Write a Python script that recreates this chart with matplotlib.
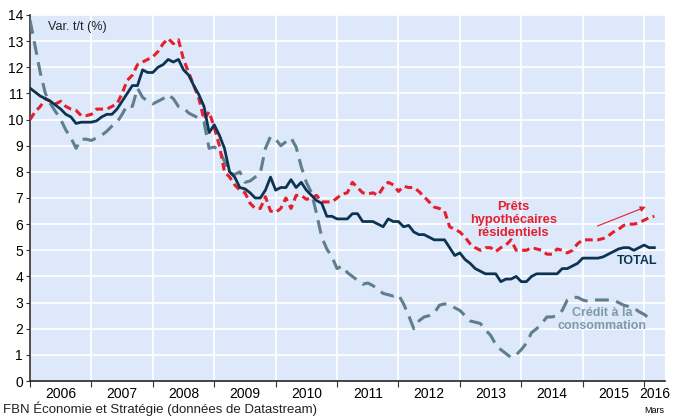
import numpy as np
import matplotlib.pyplot as plt
from matplotlib.ticker import FixedLocator

plt.rcParams['font.family'] = ['Liberation Sans', 'DejaVu Sans']

# Monthly data, Jan 2006 -> Mar 2016 (annual % change)
start_year = 2006
total = [11.2, 11.05, 10.9, 10.8, 10.7, 10.55, 10.4, 10.2, 10.1, 9.85, 9.9, 9.9,
         9.9, 9.95, 10.1, 10.2, 10.2, 10.4, 10.7, 11.0, 11.3, 11.3, 11.9, 11.8,
         11.8, 12.0, 12.1, 12.3, 12.2, 12.3, 11.9, 11.7, 11.3, 10.95, 10.5, 9.5,
         9.8, 9.4, 8.9, 8.0, 7.8, 7.4, 7.35, 7.2, 7.0, 7.0, 7.3, 7.8,
         7.3, 7.4, 7.4, 7.7, 7.4, 7.6, 7.3, 7.1, 6.9, 6.8, 6.3, 6.3,
         6.2, 6.2, 6.2, 6.4, 6.4, 6.1, 6.1, 6.1, 6.0, 5.9, 6.2, 6.1,
         6.1, 5.9, 5.95, 5.7, 5.6, 5.6, 5.5, 5.4, 5.4, 5.4, 5.1, 4.8,
         4.9, 4.65, 4.5, 4.3, 4.2, 4.1, 4.1, 4.1, 3.8, 3.9, 3.9, 4.0,
         3.8, 3.8, 4.0, 4.1, 4.1, 4.1, 4.1, 4.1, 4.3, 4.3, 4.4, 4.5,
         4.7, 4.7, 4.7, 4.7, 4.75, 4.85, 4.95, 5.05, 5.1, 5.1, 5.0, 5.1,
         5.2, 5.1, 5.1]
hypo = [10.0, 10.3, 10.5, 10.8, 10.7, 10.6, 10.7, 10.5, 10.4, 10.35, 10.15, 10.15,
        10.2, 10.4, 10.4, 10.4, 10.5, 10.6, 11.0, 11.5, 11.7, 12.1, 12.2, 12.3,
        12.4, 12.6, 12.9, 13.1, 12.9, 13.05, 12.3, 11.8, 11.3, 10.8, 10.0, 10.3,
        9.7, 9.0, 8.0, 7.8, 7.5, 7.3, 7.2, 6.8, 6.6, 6.6, 7.05, 6.5,
        6.45, 6.6, 7.0, 6.6, 7.1, 7.1, 6.95, 7.0, 7.1, 6.85, 6.85, 6.85,
        7.0, 7.15, 7.2, 7.6, 7.4, 7.2, 7.15, 7.2, 7.1, 7.4, 7.6, 7.5,
        7.25, 7.45, 7.4, 7.4, 7.25, 7.05, 6.85, 6.65, 6.6, 6.5, 5.9, 5.8,
        5.7, 5.5, 5.25, 5.1, 5.0, 5.1, 5.1, 4.95, 5.1, 5.2, 5.4, 5.0,
        5.0, 5.0, 5.1, 5.05, 5.0, 4.85, 4.85, 5.05, 5.0, 4.9, 5.0, 5.25,
        5.4, 5.4, 5.4, 5.4, 5.45, 5.55, 5.7, 5.8, 5.95, 6.0, 6.0, 6.05,
        6.15, 6.25, 6.3]
conso = [13.8, 12.8, 11.8, 11.0, 10.6, 10.3, 10.0, 9.6, 9.3, 8.9, 9.25, 9.25,
         9.2, 9.3, 9.4, 9.55, 9.75, 9.9, 10.2, 10.55, 10.5, 11.2, 10.85, 10.7,
         10.6, 10.7, 10.8, 10.95, 10.8, 10.5, 10.45, 10.25, 10.15, 10.05, 9.9, 8.9,
         8.95, 8.8, 8.4, 7.95, 7.9, 8.0, 7.6, 7.65, 7.8, 7.95, 8.9, 9.35,
         9.25, 9.0, 9.15, 9.3, 8.95, 8.2, 7.6, 7.2, 6.4, 5.5, 5.05, 4.75,
         4.3, 4.4, 4.15, 4.0, 3.85, 3.7, 3.75, 3.65, 3.5, 3.35, 3.3, 3.25,
         3.3, 2.95, 2.5, 2.0, 2.3, 2.45, 2.5, 2.6, 2.9, 2.95, 2.9, 2.8,
         2.7, 2.5, 2.3, 2.25, 2.2, 1.95, 1.75, 1.4, 1.2, 1.05, 0.9, 1.0,
         1.2, 1.45, 1.85, 2.0, 2.2, 2.45, 2.45, 2.5, 2.7, 3.1, 3.2, 3.2,
         3.1, 3.05, 3.1, 3.1, 3.1, 3.1, 3.1, 3.0, 2.9, 2.85, 2.8, 2.65,
         2.55, 2.4, 2.4]
years = list(range(2006, 2017))

t = start_year + np.arange(len(total)) / 12.0

navy = '#0c3452'
red = '#e5202d'
grey = '#5f7e8e'
grey_txt = '#7e9aaa'

fig = plt.figure(figsize=(6.76, 4.16), dpi=100)
ax = fig.add_axes([0.0444, 0.0841, 0.9393, 0.8799])
ax.set_facecolor('#dde9fb')

ax.plot(t, conso, color=grey, lw=2.2, dashes=(4.5, 2.5), zorder=3)
ax.plot(t, hypo, color=red, lw=2.2, dashes=(2.5, 1.5), zorder=4)
ax.plot(t, total, color=navy, lw=2.0, zorder=5)

ax.set_xlim(2006, 2016.34)
ax.set_ylim(0, 14)
ax.set_yticks(range(0, 15))
ax.tick_params(axis='y', labelsize=10, length=3, width=0.8, color='#333333', pad=2)

# year labels centred in each year, tick marks at year boundaries
label_pos = [y + 0.5 for y in years[:-1]] + [2016.17]
ax.set_xticks(label_pos)
ax.set_xticklabels([str(y) for y in years])
ax.xaxis.set_minor_locator(FixedLocator(years))
ax.tick_params(axis='x', which='major', length=0, labelsize=10, pad=4)
ax.tick_params(axis='x', which='minor', length=4, width=0.8, color='#333333')

ax.grid(True, axis='y', which='major', color='white', lw=1.2)
ax.grid(True, axis='x', which='minor', color='white', lw=1.2)
ax.grid(False, axis='x', which='major')
ax.set_axisbelow(True)
for s in ['top', 'right']:
    ax.spines[s].set_visible(False)
ax.spines['left'].set_color('#333333')
ax.spines['bottom'].set_color('#222222')
ax.spines['left'].set_linewidth(1.2)
ax.spines['bottom'].set_linewidth(1.2)

ax.text(2006.3, 13.55, 'Var. t/t (%)', fontsize=9, color='#222222', va='center')

ax.text(2013.87, 6.16, 'Prêts\nhypothécaires\nrésidentiels', color=red,
        fontsize=9.3, fontweight='bold', ha='center', va='center', linespacing=1.15)
ax.text(2015.89, 4.59, 'TOTAL', color=navy, fontsize=9, fontweight='bold',
        ha='center', va='center')
ax.text(2015.32, 2.35, 'Crédit à la\nconsommation', color=grey_txt, fontsize=9,
        fontweight='bold', ha='center', va='center', linespacing=1.1)
ax.annotate('', xy=(2016.07, 6.7), xytext=(2015.2, 5.89),
            arrowprops=dict(arrowstyle='-|>', color=red, lw=0.8,
                            mutation_scale=8))

ax.text(2016.17, -0.068, 'Mars', fontsize=6.5, ha='center', va='top',
        transform=ax.get_xaxis_transform())
fig.text(0.004, 0.0, 'FBN Économie et Stratégie (données de Datastream)',
         fontsize=9.5, color='#222222', ha='left', va='bottom')

fig.savefig('out.png', dpi=100)
